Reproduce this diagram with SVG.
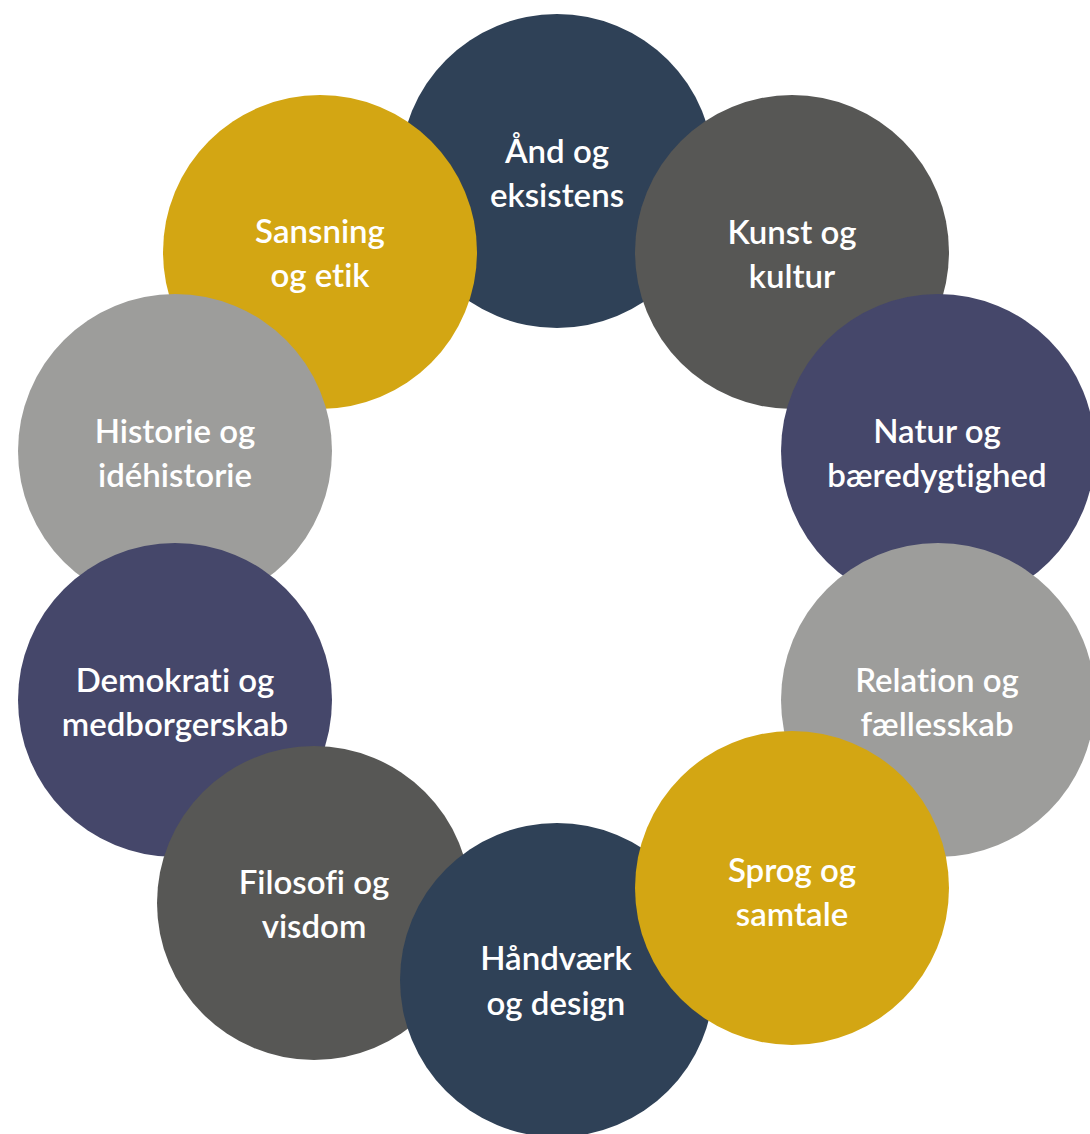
<svg xmlns="http://www.w3.org/2000/svg" width="1090" height="1134" viewBox="0 0 1090 1134">
<style>
.t{font-family:Lato,"Open Sans","Liberation Sans",sans-serif;font-size:33px;font-weight:600;fill:#fff;text-anchor:middle;font-variant-ligatures:none;font-feature-settings:"liga" 0,"clig" 0}
.navy{fill:#2F4157}.dgray{fill:#575755}.slate{fill:#45476A}.lgray{fill:#9D9D9B}.gold{fill:#D3A613}
</style>
<rect width="1090" height="1134" fill="#fff"/>
<g id="connectors"/>
<g id="n-and"><circle class="navy" cx="557" cy="171" r="157"/><text class="t" x="557" y="163">Ånd og</text><text class="t" x="557" y="207">eksistens</text></g>
<g id="n-kunst"><circle class="dgray" cx="792" cy="252" r="157"/><text class="t" x="792" y="244">Kunst og</text><text class="t" x="792" y="288">kultur</text></g>
<g id="n-natur"><circle class="slate" cx="938" cy="451" r="157"/><text class="t" x="937" y="443">Natur og</text><text class="t" x="937" y="487">bæredygtighed</text></g>
<g id="n-relation"><circle class="lgray" cx="938" cy="700" r="157"/><text class="t" x="937" y="692">Relation og</text><text class="t" x="937" y="736">fællesskab</text></g>
<g id="n-sansning"><circle class="gold" cx="320" cy="252" r="157"/><text class="t" x="320" y="243">Sansning</text><text class="t" x="320" y="287">og etik</text></g>
<g id="n-historie"><circle class="lgray" cx="175" cy="451" r="157"/><text class="t" x="175" y="443">Historie og</text><text class="t" x="175" y="487">idéhistorie</text></g>
<g id="n-demokrati"><circle class="slate" cx="175" cy="700" r="157"/><text class="t" x="175" y="692">Demokrati og</text><text class="t" x="175" y="736">medborgerskab</text></g>
<g id="n-filosofi"><circle class="dgray" cx="314" cy="903" r="157"/><text class="t" x="314" y="894">Filosofi og</text><text class="t" x="314" y="938">visdom</text></g>
<g id="n-haandvaerk"><circle class="navy" cx="557" cy="980" r="157"/><text class="t" x="556" y="970">Håndværk</text><text class="t" x="556" y="1015">og design</text></g>
<g id="n-sprog"><circle class="gold" cx="792" cy="888" r="157"/><text class="t" x="792" y="882">Sprog og</text><text class="t" x="792" y="926">samtale</text></g>
</svg>
